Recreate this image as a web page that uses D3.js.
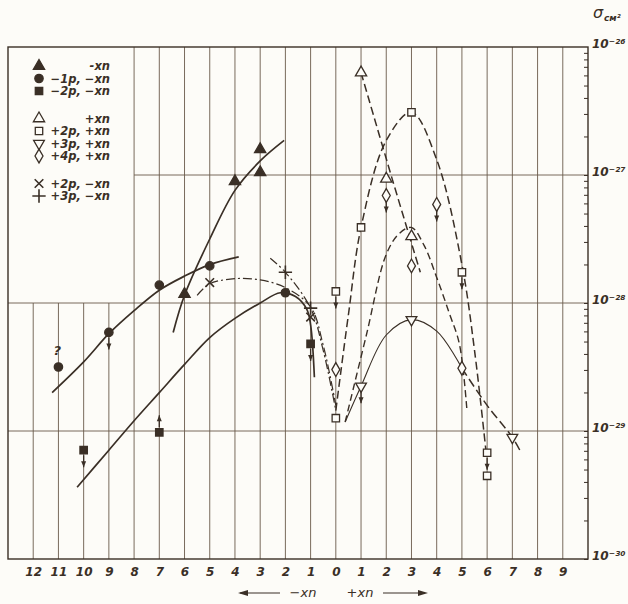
<!DOCTYPE html>
<html>
<head>
<meta charset="UTF-8">
<title>sigma</title>
<script src="https://cdn.jsdelivr.net/npm/d3@7"></script>
<style>
  body { margin: 0; background: #fdfcf8; }
  svg { display: block; }
  text { font-family: "DejaVu Sans", sans-serif; font-style: italic; fill: #3a2f26; }
</style>
</head>
<body>
<svg width="628" height="604"></svg>
<script>
// categories (signed: minus side on the left), tick labels as printed
var xCats = [-12,-11,-10,-9,-8,-7,-6,-5,-4,-3,-2,-1,0,1,2,3,4,5,6,7,8,9];
var xLabels = ["12","11","10","9","8","7","6","5","4","3","2","1","0","1","2","3","4","5","6","7","8","9"];
var yDecades = [-30,-29,-28,-27,-26];
var yLabels = ["10⁻³⁰","10⁻²⁹","10⁻²⁸","10⁻²⁷","10⁻²⁶"];

// measured points: [x, log10 sigma]
var triFilled = [[-6,-27.93],[-4,-27.05],[-3,-26.80],[-3,-26.98]];
var circFilled = [[-11,-28.50],[-9,-28.23],[-7,-27.86],[-5,-27.71],[-2,-27.92]];
var sqFilled = [[-10,-29.15],[-7,-29.01],[-1,-28.32]];
var triOpen = [[1,-26.20],[2,-27.03],[3,-27.48]];
var sqOpen = [[0,-27.91],[0,-28.90],[1,-27.41],[3,-26.51],[5,-27.76],[6,-29.17],[6,-29.35]];
var triDown = [[1,-28.65],[3,-28.13],[7,-29.05]];
var diamonds = [[0,-28.52],[2,-27.16],[3,-27.71],[4,-27.23],[5,-28.51]];
var crossX = [[-5,-27.84],[-1,-28.11]];
var crossPlus = [[-2,-27.76],[-1,-28.04]];

// limit arrows: [x, log10 sigma, 1 = down, -1 = up]
var arrows = [[-10,-29.15,1],[-9,-28.23,1],[-7,-29.01,-1],[-1,-28.32,1],[0,-27.91,1],
              [1,-28.65,1],[2,-27.16,1],[4,-27.23,1],[5,-27.76,1],[6,-29.17,1]];

// hand drawn curves
var curveTri = [[-6.45,-28.23],[-6,-27.94],[-5,-27.50],[-4,-27.12],[-3,-26.89],[-2.05,-26.73]];
var curveCirc = [[-11.25,-28.70],[-10,-28.46],[-9,-28.24],[-8,-28.06],[-7,-27.90],[-6,-27.79],[-5,-27.70],[-3.85,-27.64]];
var curveLow = [[-10.26,-29.44],[-9,-29.15],[-8,-28.92],[-7,-28.70],[-6,-28.48],[-5,-28.27],[-4,-28.12],[-3,-28.00],
                [-2.2,-27.92],[-1.6,-27.95],[-1.15,-28.05],[-1,-28.17],[-0.85,-28.58]];
var curveX = [[-5.5,-27.94],[-5,-27.85],[-4,-27.81],[-3,-27.82],[-2,-27.88],[-1,-28.03],[-0.5,-28.33],[0,-28.80]];
var curvePlus = [[-2.6,-27.65],[-2,-27.76],[-1,-28.04],[-0.5,-28.37],[0,-28.84]];
var curveTriOpen = [[1,-26.20],[2.25,-27.04],[3.35,-27.76]];
var curveSqOpen = [[0,-28.84],[0.5,-28.09],[1,-27.41],[2,-26.73],[3,-26.51],[4,-26.88],[5,-27.70],[5.5,-28.37],[5.95,-29.15]];
var curveMid = [[0.37,-28.93],[1.2,-28.26],[2,-27.62],[2.5,-27.46],[3,-27.41],[3.5,-27.55],[4,-27.80],[4.5,-28.08],[4.9,-28.32],[5.2,-28.84]];
var curveTriDown = [[0.37,-28.93],[1,-28.65],[2,-28.25],[3,-28.13],[4,-28.22],[5,-28.51]];
var curveTail = [[5,-28.51],[6,-28.80],[7,-29.05],[7.35,-29.17]];

var legendRows = [
  {sym: "triF", label: "-xn"},
  {sym: "circF", label: "−1p, −xn"},
  {sym: "sqF", label: "−2p, −xn"},
  {sym: "triO", label: "+xn", gap: 1},
  {sym: "sqO", label: "+2p, +xn"},
  {sym: "triD", label: "+3p, +xn"},
  {sym: "dia", label: "+4p, +xn"},
  {sym: "x", label: "+2p, −xn", gap: 1},
  {sym: "plus", label: "+3p, −xn"}
];

var ink = "#3a2f26";
var paper = "#fdfcf8";
var svg = d3.select("svg");
var pLeft = 8, pRight = 588, pTop = 47, pBottom = 559;

var x = d3.scaleLinear().domain([-13, 10]).range([pLeft, pRight]);
var y = d3.scaleLog().domain([1e-30, 1e-26]).range([pBottom, pTop]);
function Y(v) { return y(Math.pow(10, v)); }

// grid
var grid = svg.append("g").attr("stroke", "#6a5a4b").attr("stroke-width", 0.9);
grid.selectAll("line.v").data(xCats).enter().append("line")
  .attr("x1", function(d) { return x(d); }).attr("x2", function(d) { return x(d); })
  .attr("y1", function(d) { return d < -8 ? Y(-28) : pTop; })
  .attr("y2", pBottom);
grid.selectAll("line.h").data([-29,-28,-27]).enter().append("line")
  .attr("x1", function(d) { return d == -27 ? x(-8) : pLeft; })
  .attr("x2", pRight)
  .attr("y1", function(d) { return Y(d); }).attr("y2", function(d) { return Y(d); });

// frame
svg.append("rect").attr("x", pLeft).attr("y", pTop).attr("width", pRight - pLeft).attr("height", pBottom - pTop)
  .attr("fill", "none").attr("stroke", ink).attr("stroke-width", 1.4);

// right axis: minor ticks inside, labels outside
var minor = [];
yDecades.slice(0, 4).forEach(function(e) {
  for (var k = 1; k < 10; k++) minor.push(k * Math.pow(10, e));
});
svg.append("g").attr("transform", "translate(" + pRight + ",0)")
  .call(d3.axisRight(y).tickValues(minor).tickSize(-4).tickFormat(""))
  .call(function(g) { g.select(".domain").remove(); g.selectAll("line").attr("stroke", ink); });
svg.append("g").attr("transform", "translate(" + pRight + ",0)")
  .call(d3.axisRight(y).tickValues(yDecades.map(function(e) { return Math.pow(10, e); }))
    .tickSize(0).tickPadding(4)
    .tickFormat(function(d, i) { return yLabels[i]; }))
  .call(function(g) {
    g.select(".domain").remove();
    g.selectAll("text").attr("font-size", 12).attr("font-weight", "bold").attr("dy", "0")
      .attr("font-family", "DejaVu Sans").attr("font-style", "italic").attr("fill", ink);
  });

svg.append("text").attr("x", 593).attr("y", 18).attr("font-size", 16).text("σ");
svg.append("text").attr("x", 604).attr("y", 21).attr("font-size", 9).attr("font-weight", "bold").text("см²");

// bottom labels
svg.append("g").attr("transform", "translate(0," + pBottom + ")")
  .call(d3.axisBottom(x).tickValues(xCats).tickSize(0).tickPadding(8)
    .tickFormat(function(d, i) { return xLabels[i]; }))
  .call(function(g) {
    g.select(".domain").remove();
    g.selectAll("text").attr("font-size", 12).attr("font-weight", "bold")
      .attr("font-family", "DejaVu Sans").attr("font-style", "italic").attr("fill", ink);
  });

// bottom caption
var cap = svg.append("g");
cap.append("line").attr("x1", 240).attr("x2", 280).attr("y1", 593).attr("y2", 593).attr("stroke", ink).attr("stroke-width", 1.2);
cap.append("path").attr("d", "M238,593 L248,590 L248,596 Z").attr("fill", ink);
cap.append("line").attr("x1", 383).attr("x2", 425).attr("y1", 593).attr("y2", 593).attr("stroke", ink).attr("stroke-width", 1.2);
cap.append("path").attr("d", "M428,593 L418,590 L418,596 Z").attr("fill", ink);
cap.append("text").attr("x", 303).attr("y", 597).attr("text-anchor", "middle").attr("font-size", 13).text("−xn");
cap.append("text").attr("x", 360).attr("y", 597).attr("text-anchor", "middle").attr("font-size", 13).text("+xn");

// curves
var line = d3.line()
  .x(function(d) { return x(d[0]); })
  .y(function(d) { return Y(d[1]); })
  .curve(d3.curveCatmullRom.alpha(0.5));

var curves = [
  {pts: curveTri, w: 1.7, dash: null},
  {pts: curveCirc, w: 1.7, dash: null},
  {pts: curveLow, w: 1.7, dash: null},
  {pts: curveX, w: 1.2, dash: "9,3,2,3"},
  {pts: curvePlus, w: 1.2, dash: "9,3,2,3"},
  {pts: curveTriOpen, w: 1.5, dash: "8,4"},
  {pts: curveSqOpen, w: 1.5, dash: "8,4"},
  {pts: curveMid, w: 1.4, dash: "7,4"},
  {pts: curveTriDown, w: 1.1, dash: null},
  {pts: curveTail, w: 1.5, dash: "9,4"}
];
svg.append("g").selectAll("path").data(curves).enter().append("path")
  .attr("d", function(d) { return line(d.pts); })
  .attr("fill", "none").attr("stroke", ink)
  .attr("stroke-width", function(d) { return d.w; })
  .attr("stroke-dasharray", function(d) { return d.dash; });

// limit arrows
var ag = svg.append("g");
arrows.forEach(function(a) {
  var cx = x(a[0]), cy = Y(a[1]), s = a[2];
  var y0 = cy + s * 5, y1 = cy + s * 17;
  ag.append("line").attr("x1", cx).attr("x2", cx).attr("y1", y0).attr("y2", y1)
    .attr("stroke", ink).attr("stroke-width", 1.3);
  ag.append("path").attr("d", "M" + (cx - 2.5) + "," + (y1 - s * 6) + " L" + cx + "," + y1 + " L" + (cx + 2.5) + "," + (y1 - s * 6) + " Z")
    .attr("fill", ink);
});

// markers
var shapes = {
  triF: {type: d3.symbolTriangle, size: 55, fill: true},
  circF: {type: d3.symbolCircle, size: 55, fill: true},
  sqF: {type: d3.symbolSquare, size: 55, fill: true},
  triO: {type: d3.symbolTriangle, size: 55, fill: false},
  sqO: {type: d3.symbolSquare, size: 55, fill: false},
  triD: {type: d3.symbolTriangle, size: 50, fill: false, rot: 180},
  dia: {type: d3.symbolDiamond, size: 55, fill: false},
  x: {type: d3.symbolTimes, size: 50, fill: false, stroke: true},
  plus: {type: d3.symbolPlus, size: 60, fill: false, stroke: true}
};
function drawMarkers(data, key) {
  var sh = shapes[key];
  svg.append("g").selectAll("path").data(data).enter().append("path")
    .attr("d", d3.symbol().type(sh.type).size(sh.size))
    .attr("transform", function(d) {
      return "translate(" + x(d[0]) + "," + Y(d[1]) + ")" + (sh.rot ? " rotate(" + sh.rot + ")" : "");
    })
    .attr("fill", sh.fill ? ink : (sh.stroke ? "none" : paper))
    .attr("stroke", ink)
    .attr("stroke-width", sh.stroke ? 1.6 : 1.3);
}
drawMarkers(triFilled, "triF");
drawMarkers(circFilled, "circF");
drawMarkers(sqFilled, "sqF");
drawMarkers(triOpen, "triO");
drawMarkers(sqOpen, "sqO");
drawMarkers(triDown, "triD");
drawMarkers(diamonds, "dia");
drawMarkers(crossX, "x");
drawMarkers(crossPlus, "plus");

// question mark over the -11 point
svg.append("text").attr("x", x(-11) - 5).attr("y", Y(-28.50) - 12).attr("font-size", 13).attr("font-weight", "bold").text("?");

// legend
var ly = 66;
legendRows.forEach(function(r) {
  if (r.gap) ly += 15;
  var sh = shapes[r.sym];
  svg.append("path")
    .attr("d", d3.symbol().type(sh.type).size(sh.size)())
    .attr("transform", "translate(39," + ly + ")" + (sh.rot ? " rotate(" + sh.rot + ")" : ""))
    .attr("fill", sh.fill ? ink : "none")
    .attr("stroke", ink).attr("stroke-width", sh.stroke ? 1.6 : 1.3);
  svg.append("text").attr("x", 110).attr("y", ly + 4).attr("text-anchor", "end")
    .attr("font-size", 11.5).attr("font-weight", "bold").text(r.label);
  ly += 12.5;
});
</script>
</body>
</html>
